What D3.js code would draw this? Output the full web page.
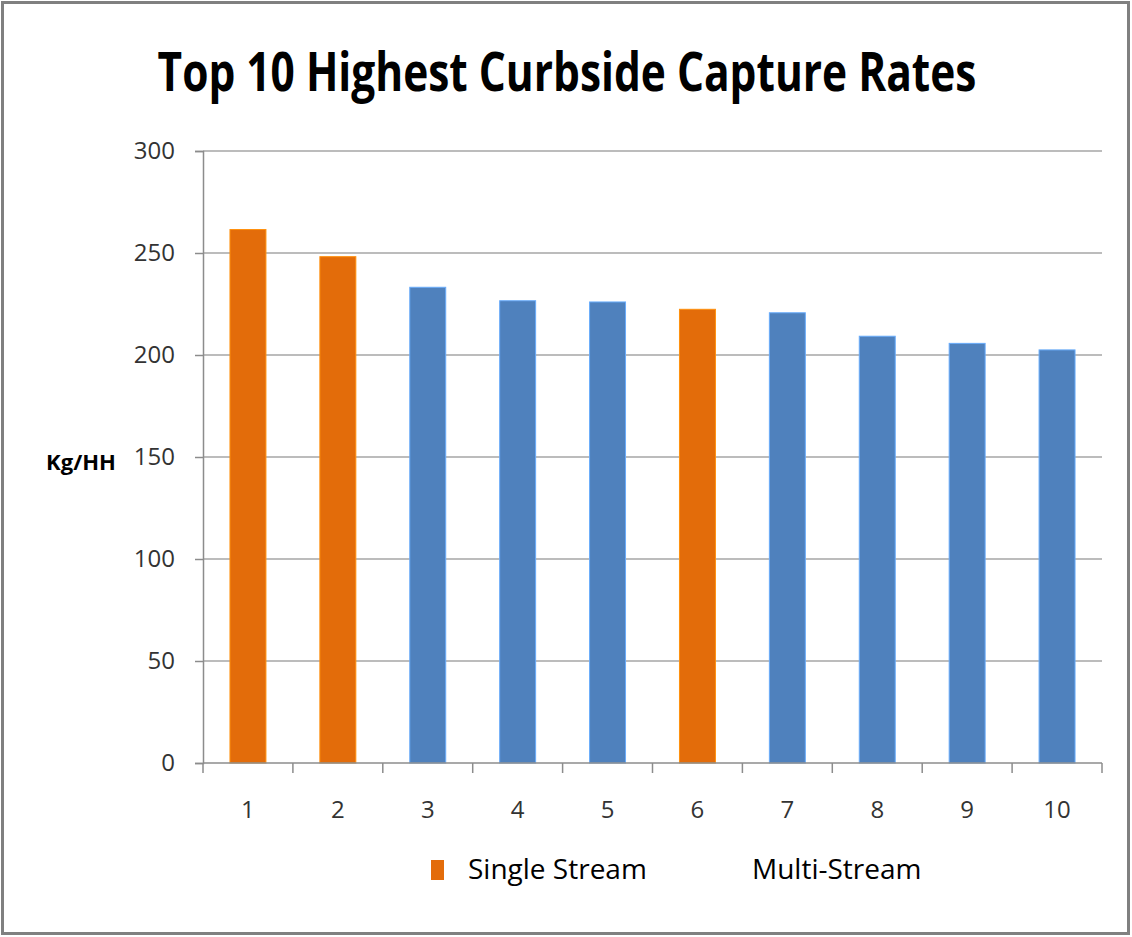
<!DOCTYPE html>
<html>
<head>
  <meta charset="UTF-8">
  <title>Top 10 Highest Curbside Capture Rates</title>
  <script src="https://d3js.org/d3.v7.min.js"></script>
  <style>
    body { margin: 0; background: #fff; }
    svg text { font-family: "Open Sans", "Noto Sans", sans-serif; }
  </style>
</head>
<body>
  <svg width="1132" height="937"></svg>

  <script>
    // Data
    const categories = ["1", "2", "3", "4", "5", "6", "7", "8", "9", "10"];
    const values = [261.5, 248.2, 233.2, 226.6, 226, 222.4, 220.7, 209.2, 205.7, 202.5];
    const streams = ["Single Stream", "Single Stream", "Multi-Stream", "Multi-Stream", "Multi-Stream",
                     "Single Stream", "Multi-Stream", "Multi-Stream", "Multi-Stream", "Multi-Stream"];
    const yTicks = [0, 50, 100, 150, 200, 250, 300];
    const legendItems = ["Single Stream", "Multi-Stream"];

    const colors = { "Single Stream": "#E36C0A", "Multi-Stream": "#4F81BD" };

    const svg = d3.select("svg");

    // Outer frame
    svg.append("rect")
      .attr("x", 2.5).attr("y", 2.5)
      .attr("width", 1126).attr("height", 931)
      .attr("fill", "#fff")
      .attr("stroke", "#808080")
      .attr("stroke-width", 3);

    // Plot area
    const plotLeft = 203, plotRight = 1102, plotTop = 151, plotBottom = 763;

    const x = d3.scaleBand()
      .domain(categories)
      .range([plotLeft, plotRight])
      .paddingInner(0.6)
      .paddingOuter(0.3);

    const y = d3.scaleLinear()
      .domain([0, 300])
      .range([plotBottom, plotTop]);

    // Gridlines
    svg.append("g")
      .selectAll("line")
      .data(yTicks.filter(d => d > 0))
      .join("line")
      .attr("x1", plotLeft).attr("x2", plotRight)
      .attr("y1", d => y(d)).attr("y2", d => y(d))
      .attr("stroke", "#a6a6a6")
      .attr("stroke-width", 1.5);

    // Y axis
    const yAxis = svg.append("g")
      .attr("transform", `translate(${plotLeft},0)`)
      .call(d3.axisLeft(y).tickValues(yTicks).tickSize(8).tickPadding(20));
    yAxis.select(".domain").attr("stroke", "#8c8c8c").attr("stroke-width", 1.5);
    yAxis.selectAll(".tick line").attr("stroke", "#8c8c8c").attr("stroke-width", 1.5);
    yAxis.selectAll(".tick text")
      .attr("fill", "#333")
      .style("font-size", "24px")
      .style("font-family", "'Open Sans', sans-serif");

    // Bars
    svg.append("g")
      .selectAll("rect")
      .data(categories)
      .join("rect")
      .attr("x", d => x(d))
      .attr("y", (d, i) => y(values[i]))
      .attr("width", x.bandwidth())
      .attr("height", (d, i) => y(0) - y(values[i]))
      .attr("fill", (d, i) => colors[streams[i]])
      .attr("stroke", (d, i) => d3.color(colors[streams[i]]).brighter(0.8))
      .attr("stroke-width", 1);

    // X axis with tick marks between categories
    const xAxisG = svg.append("g");
    xAxisG.append("line")
      .attr("x1", plotLeft).attr("x2", plotRight)
      .attr("y1", plotBottom).attr("y2", plotBottom)
      .attr("stroke", "#8c8c8c").attr("stroke-width", 1.5);
    const step = x.step();
    xAxisG.selectAll("line.tick")
      .data(d3.range(categories.length + 1))
      .join("line")
      .attr("class", "tick")
      .attr("x1", i => plotLeft + i * step).attr("x2", i => plotLeft + i * step)
      .attr("y1", plotBottom).attr("y2", plotBottom + 10)
      .attr("stroke", "#8c8c8c").attr("stroke-width", 1.5);
    xAxisG.selectAll("text")
      .data(categories)
      .join("text")
      .attr("x", d => x(d) + x.bandwidth() / 2)
      .attr("y", 818)
      .attr("text-anchor", "middle")
      .attr("fill", "#333")
      .style("font-size", "24px")
      .text(d => d);

    // Title: squeezed horizontally to the reference width
    const titleG = svg.append("g");
    const title = titleG.append("text")
      .attr("x", 0)
      .attr("y", 0)
      .attr("text-anchor", "middle")
      .style("font-size", "54px")
      .style("font-weight", "bold")
      .attr("fill", "#000")
      .text("Top 10 Highest Curbside Capture Rates");
    const titleW = title.node().getComputedTextLength();
    titleG.attr("transform", `translate(567,91) scale(${Math.min(1, 819 / titleW)},1)`);

    // Y axis label
    svg.append("text")
      .attr("x", 81)
      .attr("y", 470)
      .attr("text-anchor", "middle")
      .style("font-size", "22px")
      .style("font-weight", "bold")
      .attr("fill", "#000")
      .text("Kg/HH");

    // Legend
    const legend = svg.append("g");
    legend.append("rect")
      .attr("x", 431).attr("y", 860)
      .attr("width", 13).attr("height", 20)
      .attr("fill", colors[legendItems[0]]);
    legend.append("text")
      .attr("x", 468).attr("y", 879)
      .style("font-size", "28px")
      .attr("fill", "#000")
      .text(legendItems[0]);
    legend.append("text")
      .attr("x", 752).attr("y", 879)
      .style("font-size", "28px")
      .attr("fill", "#000")
      .text(legendItems[1]);
  </script>
</body>
</html>
